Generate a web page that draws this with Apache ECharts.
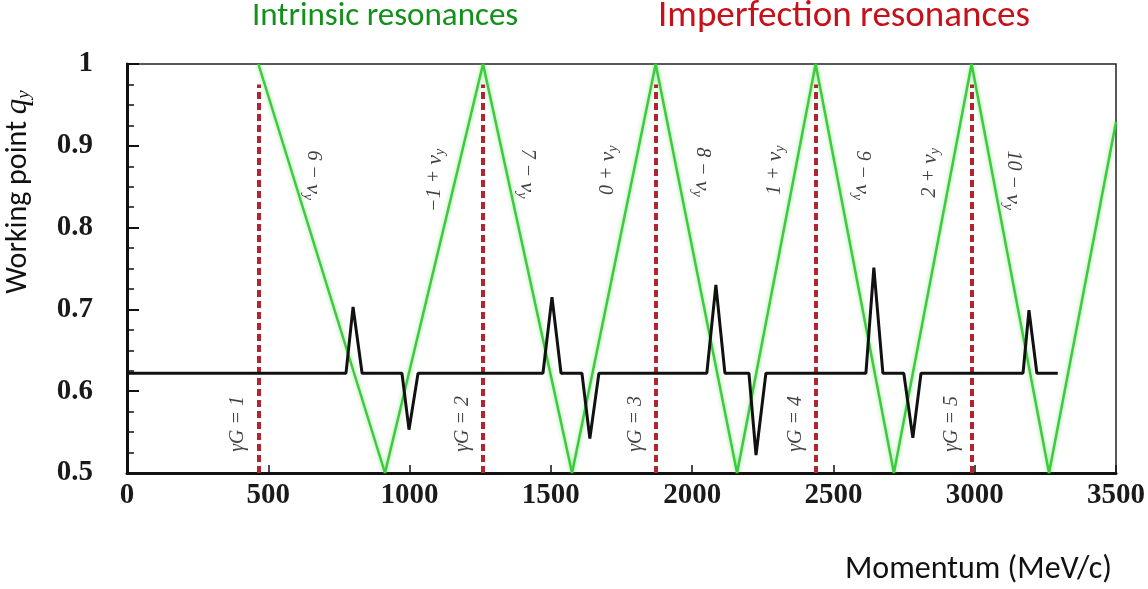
<!DOCTYPE html>
<html>
<head>
<meta charset="utf-8">
<script src="https://cdn.jsdelivr.net/npm/echarts@6/dist/echarts.min.js"></script>
<style>
    html, body { margin: 0; padding: 0; background: #fff; }
    #main { width: 1148px; height: 589px; }
</style>
</head>
<body>
<div id="main"></div>
<script>
    // momentum (MeV/c) of the imperfection resonances gammaG = n
    var gammaN = [1, 2, 3, 4, 5];
    var redX = [465, 1260, 1871, 2437, 2989];

    // green: intrinsic resonance lines (peaks / valleys)
    var greenX = [465, 913, 1260, 1575, 1871, 2159, 2437, 2714, 2989, 3263, 3500];
    var greenY = [1.0, 0.5, 1.0, 0.5, 1.0, 0.5, 1.0, 0.5, 1.0, 0.5, 0.929];

    // black: working point
    var blackX = [0, 775, 800, 832, 973, 998, 1030, 1472, 1504, 1536, 1610, 1638, 1670,
        2052, 2084, 2116, 2201, 2226, 2261, 2615, 2643, 2675, 2749, 2781, 2810, 3171, 3192, 3220, 3294];
    var blackY = [0.622, 0.622, 0.703, 0.622, 0.622, 0.553, 0.622, 0.622, 0.715, 0.622, 0.622, 0.542, 0.622,
        0.622, 0.730, 0.622, 0.622, 0.522, 0.622, 0.622, 0.751, 0.622, 0.622, 0.543, 0.622, 0.622, 0.699, 0.622, 0.622];

    // resonance labels on the green lines
    var annText = ['6 \u2212', '\u22121 +', '7 \u2212', '0 +', '8 \u2212', '1 +', '9 \u2212', '2 +', '10 \u2212'];
    var annX = [658, 1090, 1416, 1702, 2035, 2293, 2601, 2842, 3136];
    var annY = [0.864, 0.858, 0.866, 0.870, 0.868, 0.870, 0.864, 0.867, 0.858];

    var xTicks = [0, 500, 1000, 1500, 2000, 2500, 3000, 3500];
    var yTicks = [0.5, 0.6, 0.7, 0.8, 0.9, 1];

    function pairs(xs, ys) {
        return xs.map(function (x, i) { return [x, ys[i]]; });
    }

    var serif = "'Liberation Serif', 'DejaVu Serif', serif";
    var sans = "Carlito, Lato, 'Open Sans', sans-serif";

    var redLines = redX.map(function (x) {
        return [{ coord: [x, 0.5] }, { coord: [x, 0.975] }];
    });

    var annData = annX.map(function (x, i) {
        return { value: [x, annY[i]], name: annText[i] };
    });
    var gammaData = redX.map(function (x, i) {
        return { value: [x - 72, 0.56], name: String(gammaN[i]) };
    });

    var myChart = echarts.init(document.getElementById('main'));
    var option = {
        animation: false,
        grid: {
            left: 127, right: 32, top: 64, bottom: 116,
            show: true, borderColor: '#222', borderWidth: 1.5, backgroundColor: '#fff'
        },
        xAxis: {
            type: 'value', min: xTicks[0], max: xTicks[xTicks.length - 1], interval: 500,
            axisLine: { lineStyle: { color: '#111', width: 3 } },
            axisTick: { inside: true, length: 8, lineStyle: { color: '#111', width: 1.5 } },
            splitLine: { show: false },
            axisLabel: {
                fontFamily: serif, fontWeight: 'bold', fontSize: 29, color: '#1a1a1a', margin: 8,
                formatter: function (v) { return String(v); }
            }
        },
        yAxis: {
            type: 'value', min: yTicks[0], max: yTicks[yTicks.length - 1], interval: 0.1,
            axisLine: { show: true, lineStyle: { color: '#111', width: 3 } },
            axisTick: { show: true, inside: true, length: 12, lineStyle: { color: '#111', width: 2 } },
            minorTick: { show: true, splitNumber: 4, length: 7, lineStyle: { color: '#111', width: 1.5 } },
            splitLine: { show: false },
            axisLabel: {
                fontFamily: serif, fontWeight: 'bold', fontSize: 29, color: '#1a1a1a', margin: 34,
                formatter: function (v) { return v === 1 ? '1' : v.toFixed(1); }
            }
        },
        series: [
            {
                name: 'imperfection', type: 'line', data: [], symbol: 'none', z: 3,
                markLine: {
                    silent: true, symbol: 'none', animation: false,
                    label: { show: false },
                    lineStyle: { color: '#b22530', width: 4, type: [7, 4] },
                    data: redLines
                }
            },
            {
                name: 'intrinsic', type: 'line', data: pairs(greenX, greenY), symbol: 'none', z: 4,
                lineStyle: { color: '#3dcb3d', width: 2.5, shadowBlur: 4, shadowColor: 'rgba(60,210,60,0.55)' }
            },
            {
                name: 'working point', type: 'line', data: pairs(blackX, blackY), symbol: 'none', z: 5,
                lineStyle: { color: '#111', width: 3 }
            },
            {
                name: 'labels', type: 'scatter', data: annData, symbolSize: 0, z: 6, silent: true,
                label: {
                    show: true, position: 'inside',
                    formatter: function (p) { return p.name + ' {nu|\u03bd}{sub|y}'; },
                    fontFamily: serif, fontStyle: 'italic', fontSize: 20, color: '#111',
                    rich: {
                        nu: { fontFamily: serif, fontStyle: 'italic', fontSize: 22, color: '#111' },
                        sub: { fontFamily: serif, fontStyle: 'italic', fontSize: 14, color: '#111', padding: [10, 0, 0, 0] }
                    }
                },
                labelLayout: function (p) {
                    return { rotate: annText[p.dataIndex].indexOf('+') >= 0 ? 90 : -90 };
                }
            },
            {
                name: 'gammaG', type: 'scatter', data: gammaData, symbolSize: 0, z: 6, silent: true,
                label: {
                    show: true, position: 'inside', rotate: 90,
                    formatter: function (p) { return '\u03b3G = ' + p.name; },
                    fontFamily: serif, fontStyle: 'italic', fontSize: 20, color: '#111'
                }
            }
        ],
        graphic: [
            {
                type: 'text', x: 252, y: 17,
                style: { text: 'Intrinsic resonances', font: '33px ' + sans, fill: '#13901b', textVerticalAlign: 'middle' }
            },
            {
                type: 'text', x: 658, y: 17,
                style: { text: 'Imperfection resonances', font: '37px ' + sans, fill: '#c8101a', textVerticalAlign: 'middle' }
            },
            {
                type: 'text', x: 18, y: 192, rotation: Math.PI / 2,
                style: {
                    text: 'Working point {q|q}{s|y}', font: '30px ' + sans, fill: '#111',
                    textAlign: 'center', textVerticalAlign: 'middle',
                    rich: {
                        q: { fontFamily: serif, fontStyle: 'italic', fontSize: 31, fill: '#111' },
                        s: { fontFamily: serif, fontStyle: 'italic', fontSize: 19, fill: '#111', padding: [11, 0, 0, 0] }
                    }
                }
            },
            {
                type: 'text', x: 845, y: 570,
                style: { text: 'Momentum (MeV/c)', font: '32px ' + sans, fill: '#111', textVerticalAlign: 'middle' }
            }
        ]
    };
    myChart.setOption(option);
</script>
</body>
</html>
